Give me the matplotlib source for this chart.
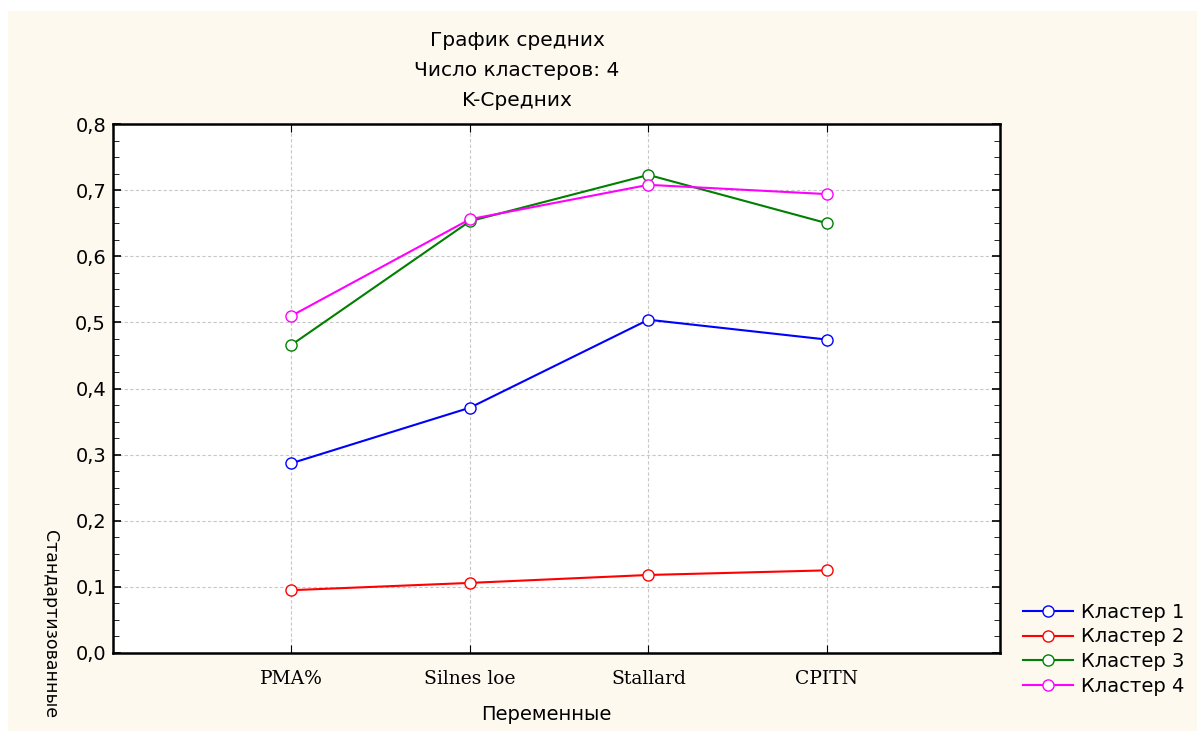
import numpy as np
import matplotlib
matplotlib.use('Agg')
from matplotlib import pyplot as plt
from matplotlib.patches import Rectangle
from matplotlib.ticker import MultipleLocator, FuncFormatter

variables = ['PMA%', 'Silnes loe', 'Stallard', 'CPITN']
cluster1 = [0.287, 0.371, 0.504, 0.474]
cluster2 = [0.095, 0.106, 0.118, 0.125]
cluster3 = [0.466, 0.653, 0.723, 0.650]
cluster4 = [0.510, 0.656, 0.708, 0.694]
series = [('Кластер 1', cluster1, '#0000ff'),
          ('Кластер 2', cluster2, '#ff0000'),
          ('Кластер 3', cluster3, '#008000'),
          ('Кластер 4', cluster4, '#ff00ff')]

plt.rcParams['font.family'] = ['DejaVu Sans']

fig = plt.figure(figsize=(11.97, 7.31), dpi=100)
fig.patch.set_facecolor('white')
# кремовый фон как в Statistica
fig.patches.append(Rectangle((8 / 1197, 0), 1, 1 - 11 / 731, transform=fig.transFigure,
                             facecolor='#fdf9ef', edgecolor='none', zorder=-10))

ax = fig.add_axes([113 / 1197, 1 - 653 / 731, 887 / 1197, 529 / 731])
ax.set_facecolor('white')

x = np.arange(1, len(variables) + 1)
for name, vals, col in series:
    ax.plot(x, vals, color=col, lw=1.5, marker='o', ms=8, mfc='white', mec=col,
            mew=1.0, label=name)

ax.set_xlim(0, 4.97)
ax.set_ylim(0, 0.8)
ax.set_xticks(x)
ax.set_xticklabels(variables, family='DejaVu Serif', fontsize=13.5)
ax.yaxis.set_major_locator(MultipleLocator(0.1))
ax.yaxis.set_minor_locator(MultipleLocator(0.025))
ax.yaxis.set_major_formatter(FuncFormatter(lambda v, p: '{:.1f}'.format(v).replace('.', ',')))
ax.tick_params(axis='y', labelsize=14, direction='in', length=6, width=1.2, right=True, pad=5)
ax.tick_params(axis='y', which='minor', direction='in', length=4, right=True)
ax.tick_params(axis='x', direction='in', length=6, top=True, pad=12)
ax.grid(True, linestyle=(0, (3, 2)), color='#c8c8c8', lw=0.8)
for s in ax.spines.values():
    s.set_linewidth(1.8)

fig.text(517 / 1197, 1 - 40 / 731, 'График средних', ha='center', va='center', fontsize=14.5)
fig.text(517 / 1197, 1 - 70 / 731, 'Число кластеров: 4', ha='center', va='center', fontsize=14.5)
fig.text(517 / 1197, 1 - 100 / 731, 'K-Средних', ha='center', va='center', fontsize=14.5)
fig.text(546 / 1197, 1 - 715 / 731, 'Переменные', ha='center', va='center', fontsize=14)
fig.text(50 / 1197, 1 - 530 / 731, 'Стандартизованные', ha='center', va='top',
         rotation=270, fontsize=12.5)

ax.legend(loc='upper left', bbox_to_anchor=(1015 / 887 - 113 / 887, 0.11), frameon=False,
          fontsize=14, handlelength=2.6, handletextpad=0.4, labelspacing=0.3, borderaxespad=0)

plt.savefig('out.png', dpi=100, facecolor=fig.get_facecolor())
